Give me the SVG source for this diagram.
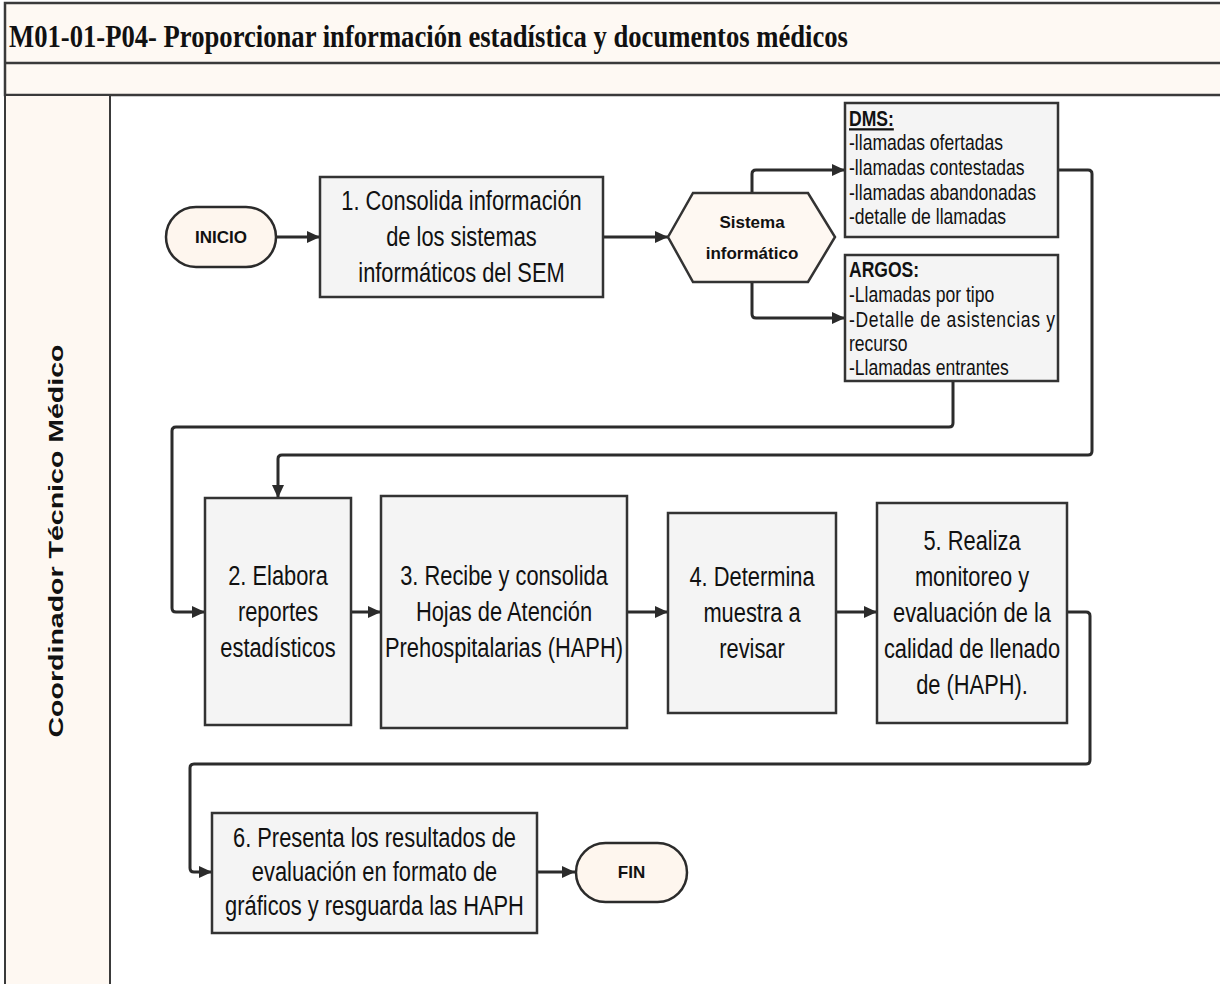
<svg xmlns="http://www.w3.org/2000/svg" width="1220" height="984" viewBox="0 0 1220 984">
<defs>
<style>
.cream{fill:#FEF8F2;stroke:#333;stroke-width:2.5}
.box{fill:#F4F4F4;stroke:#333;stroke-width:2.5}
.term{fill:#FEF6EE;stroke:#2b2b2b;stroke-width:2.5}
.t{font-family:"Liberation Sans",Arial,sans-serif;font-size:27px;fill:#111;text-anchor:middle}
.s{font-family:"Liberation Sans",Arial,sans-serif;font-size:22.5px;fill:#111}
.b{font-family:"Liberation Sans",Arial,sans-serif;font-weight:bold;font-size:17px;fill:#111;text-anchor:middle}
.c{fill:none;stroke:#2b2b2b;stroke-width:3;stroke-linejoin:round}
</style>
<marker id="ah" markerUnits="userSpaceOnUse" markerWidth="14" markerHeight="12" refX="13" refY="6" orient="auto">
<path d="M0,0 L13,6 L0,12 z" fill="#2b2b2b"/>
</marker>
</defs>
<rect x="0" y="0" width="1220" height="984" fill="#fff"/>
<g id="frame">
<rect x="5" y="3" width="1225" height="92" fill="#FEF9F3" stroke="#3a3a3a" stroke-width="2.5"/>
<line x1="5" y1="63" x2="1230" y2="63" stroke="#3a3a3a" stroke-width="2.5"/>
<rect x="5" y="95" width="105" height="900" fill="#FEF8F2" stroke="#3a3a3a" stroke-width="2"/>
<text x="9" y="47" font-family="'Liberation Serif','Times New Roman',serif" font-weight="bold" font-size="31" textLength="839" lengthAdjust="spacingAndGlyphs" fill="#111">M01-01-P04- Proporcionar información estadística y documentos médicos</text>
<text transform="translate(63,541) rotate(-90)" text-anchor="middle" font-family="'Liberation Sans',Arial,sans-serif" font-weight="bold" font-size="21" textLength="393" lengthAdjust="spacingAndGlyphs" fill="#111">Coordinador Técnico Médico</text>
</g>
<g id="connectors">
<path class="c" d="M277,237 H320" marker-end="url(#ah)"/>
<path class="c" d="M603,237 H668" marker-end="url(#ah)"/>
<path class="c" d="M752,193 V174 Q752,170 756,170 H845" marker-end="url(#ah)"/>
<path class="c" d="M752,282 V314 Q752,318 756,318 H845" marker-end="url(#ah)"/>
<path class="c" d="M1058,170 H1088 Q1092,170 1092,174 V451 Q1092,455 1088,455 H282 Q278,455 278,459 V498" marker-end="url(#ah)"/>
<path class="c" d="M953,381 V423 Q953,427 949,427 H176 Q172,427 172,431 V608 Q172,612 176,612 H205" marker-end="url(#ah)"/>
<path class="c" d="M351,612 H381" marker-end="url(#ah)"/>
<path class="c" d="M627,612 H668" marker-end="url(#ah)"/>
<path class="c" d="M836,612 H877" marker-end="url(#ah)"/>
<path class="c" d="M1067,612 H1086 Q1090,612 1090,616 V760 Q1090,764 1086,764 H194 Q190,764 190,768 V868 Q190,872 194,872 H212" marker-end="url(#ah)"/>
<path class="c" d="M537,872 H575" marker-end="url(#ah)"/>
</g>
<g id="inicio">
<rect class="term" x="166" y="207" width="110" height="60" rx="30"/>
<text class="b" x="221" y="243">INICIO</text>
</g>
<g id="p1">
<rect class="box" x="320" y="177" width="283" height="120"/>
<text class="t" transform="translate(461.5,0) scale(0.81,1)"><tspan x="0" y="210">1. Consolida información</tspan><tspan x="0" y="246">de los sistemas</tspan><tspan x="0" y="282">informáticos del SEM</tspan></text>
</g>
<g id="sistema">
<polygon class="cream" points="668,237 693,193 808,193 835,237 808,282 693,282"/>
<text class="b" x="752" y="228">Sistema</text>
<text class="b" x="752" y="259">informático</text>
</g>
<g id="dms">
<rect class="box" x="845" y="103" width="213" height="134"/>
<text class="s" transform="translate(849,0) scale(0.78,1)"><tspan x="0" y="126" font-weight="bold" text-decoration="underline">DMS:</tspan><tspan x="0" y="150">-llamadas ofertadas</tspan><tspan x="0" y="175">-llamadas contestadas</tspan><tspan x="0" y="200">-llamadas abandonadas</tspan><tspan x="0" y="224">-detalle de llamadas</tspan></text>
</g>
<g id="argos">
<rect class="box" x="845" y="255" width="213" height="126"/>
<text class="s" transform="translate(849,0) scale(0.78,1)"><tspan x="0" y="277" font-weight="bold">ARGOS:</tspan><tspan x="0" y="302">-Llamadas por tipo</tspan></text>
<text class="s" transform="translate(849,0) scale(0.78,1)" x="0" y="327" textLength="264" lengthAdjust="spacing">-Detalle de asistencias y</text>
<text class="s" transform="translate(849,0) scale(0.78,1)"><tspan x="0" y="351">recurso</tspan><tspan x="0" y="375">-Llamadas entrantes</tspan></text>
</g>
<g id="p2">
<rect class="box" x="205" y="498" width="146" height="227"/>
<text class="t" transform="translate(278,0) scale(0.81,1)"><tspan x="0" y="585">2. Elabora</tspan><tspan x="0" y="621">reportes</tspan><tspan x="0" y="657">estadísticos</tspan></text>
</g>
<g id="p3">
<rect class="box" x="381" y="496" width="246" height="232"/>
<text class="t" transform="translate(504,0) scale(0.81,1)"><tspan x="0" y="585">3. Recibe y consolida</tspan><tspan x="0" y="621">Hojas de Atención</tspan><tspan x="0" y="657">Prehospitalarias (HAPH)</tspan></text>
</g>
<g id="p4">
<rect class="box" x="668" y="513" width="168" height="200"/>
<text class="t" transform="translate(752,0) scale(0.81,1)"><tspan x="0" y="586">4. Determina</tspan><tspan x="0" y="622">muestra a</tspan><tspan x="0" y="658">revisar</tspan></text>
</g>
<g id="p5">
<rect class="box" x="877" y="503" width="190" height="220"/>
<text class="t" transform="translate(972,0) scale(0.81,1)"><tspan x="0" y="550">5. Realiza</tspan><tspan x="0" y="586">monitoreo y</tspan><tspan x="0" y="622">evaluación de la</tspan><tspan x="0" y="658">calidad de llenado</tspan><tspan x="0" y="694">de (HAPH).</tspan></text>
</g>
<g id="p6">
<rect class="box" x="212" y="813" width="325" height="120"/>
<text class="t" transform="translate(374.5,0) scale(0.81,1)"><tspan x="0" y="847">6. Presenta los resultados de</tspan><tspan x="0" y="881">evaluación en formato de</tspan><tspan x="0" y="915">gráficos y resguarda las HAPH</tspan></text>
</g>
<g id="fin">
<rect class="term" x="576" y="843" width="111" height="59" rx="29.5"/>
<text class="b" x="631.5" y="878">FIN</text>
</g>
</svg>
